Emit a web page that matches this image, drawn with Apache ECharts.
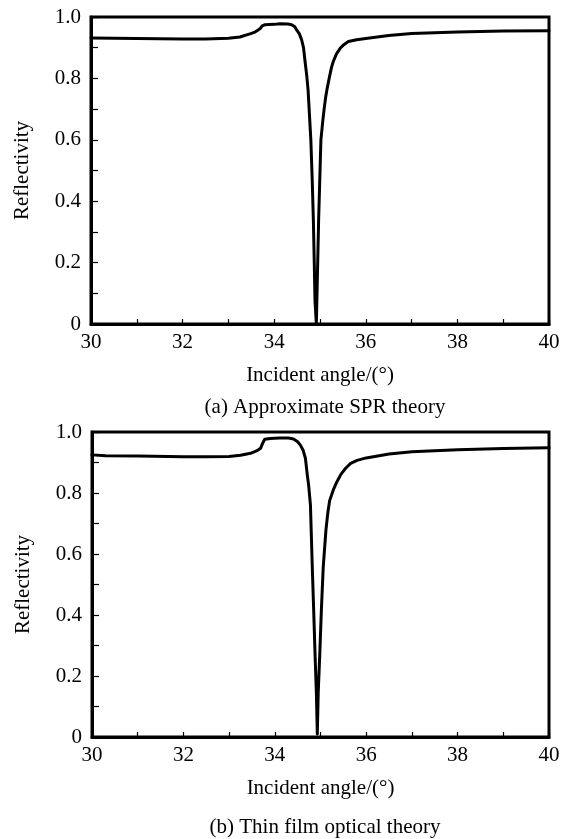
<!DOCTYPE html>
<html>
<head>
<meta charset="utf-8">
<script src="https://cdn.jsdelivr.net/npm/echarts@6/dist/echarts.min.js"></script>
<style>
html,body{margin:0;padding:0;background:#fff;}
#chart{width:568px;height:839px;}
</style>
</head>
<body>
<div id="chart"></div>
<script>
// ---- Data ----
var anglesA = [30, 30.5, 31, 31.5, 32, 32.5, 33, 33.25, 33.47, 33.58, 33.65, 33.7, 33.73, 33.8, 34.0, 34.13, 34.3, 34.38, 34.45, 34.49, 34.55, 34.6, 34.64, 34.67, 34.71, 34.74, 34.8, 34.83, 34.855, 34.875, 34.89, 34.92, 34.95, 34.97, 35.02, 35.06, 35.09, 35.12, 35.15, 35.2, 35.25, 35.29, 35.36, 35.44, 35.52, 35.62, 35.8, 36, 36.5, 37, 38, 39, 40];
var reflA   = [0.932, 0.931, 0.930, 0.929, 0.928, 0.928, 0.931, 0.935, 0.945, 0.951, 0.958, 0.963, 0.970, 0.975, 0.976, 0.978, 0.977, 0.975, 0.968, 0.958, 0.945, 0.925, 0.90, 0.86, 0.81, 0.762, 0.60, 0.47, 0.339, 0.20, 0.078, 0.0, 0.20, 0.339, 0.60, 0.66, 0.70, 0.735, 0.762, 0.80, 0.835, 0.855, 0.88, 0.898, 0.91, 0.92, 0.926, 0.930, 0.940, 0.946, 0.951, 0.954, 0.955];

var anglesB = [30, 30.3, 31, 32, 32.5, 33, 33.25, 33.47, 33.6, 33.69, 33.74, 33.78, 33.9, 34.1, 34.3, 34.41, 34.5, 34.56, 34.62, 34.67, 34.71, 34.74, 34.78, 34.82, 34.85, 34.88, 34.91, 34.93, 34.95, 34.985, 35.02, 35.06, 35.12, 35.16, 35.2, 35.28, 35.36, 35.45, 35.55, 35.66, 35.8, 36, 36.5, 37, 38, 39, 40];
var reflB   = [0.925, 0.922, 0.921, 0.919, 0.919, 0.920, 0.924, 0.930, 0.938, 0.947, 0.965, 0.976, 0.979, 0.980, 0.980, 0.977, 0.968, 0.957, 0.940, 0.914, 0.86, 0.826, 0.76, 0.558, 0.42, 0.275, 0.144, 0.01, 0.144, 0.275, 0.42, 0.558, 0.68, 0.735, 0.775, 0.81, 0.837, 0.862, 0.881, 0.897, 0.907, 0.915, 0.928, 0.935, 0.942, 0.946, 0.948];

var xLabelValues = [30, 32, 34, 36, 38, 40];
var yLabelValues = ['0', '0.2', '0.4', '0.6', '0.8', '1.0'];
var captions = ['(a) Approximate SPR theory', '(b) Thin film optical theory'];
var xName = 'Incident angle/(°)';
var yName = 'Reflectivity';

// ---- Chart ----
function pairs(xs, ys) { return xs.map(function (x, i) { return [x, ys[i]]; }); }
var FONT = 'Liberation Serif';

function xAxisOpt(idx) {
  return {
    type: 'value', gridIndex: idx, min: 30, max: 40, interval: 1,
    name: xName, nameLocation: 'middle', nameGap: 41,
    nameTextStyle: { fontFamily: FONT, fontSize: 21, color: '#000' },
    axisLine: { show: true, lineStyle: { color: '#000', width: 3 } },
    axisTick: { show: true, inside: true, length: 5, lineStyle: { color: '#000', width: 1.2 } },
    axisLabel: {
      margin: 8, fontFamily: FONT, fontSize: 21, color: '#000',
      formatter: function (v) { return xLabelValues.indexOf(Math.round(v)) >= 0 && Math.abs(v - Math.round(v)) < 1e-6 ? String(Math.round(v)) : ''; }
    },
    splitLine: { show: false }
  };
}
function yAxisOpt(idx) {
  return {
    type: 'value', gridIndex: idx, min: 0, max: 1, interval: 0.1,
    name: yName, nameLocation: 'middle', nameGap: 58, nameRotate: 90,
    nameTextStyle: { fontFamily: FONT, fontSize: 21, color: '#000' },
    axisLine: { show: true, lineStyle: { color: '#000', width: 3 } },
    axisTick: { show: true, inside: true, length: 7, lineStyle: { color: '#000', width: 1.2 } },
    axisLabel: {
      margin: 10, fontFamily: FONT, fontSize: 21, color: '#000',
      formatter: function (v) {
        var k = Math.round(v * 10);
        if (k % 2 !== 0) return '';
        return yLabelValues[k / 2];
      }
    },
    splitLine: { show: false }
  };
}

var chart = echarts.init(document.getElementById('chart'), null, { renderer: 'canvas' });
chart.setOption({
  backgroundColor: '#fff',
  animation: false,
  title: [
    { text: captions[0], left: 320, top: 392, textAlign: 'center',
      textStyle: { fontFamily: FONT, fontSize: 21, fontWeight: 'normal', color: '#000' } },
    { text: captions[1], left: 320, top: 812, textAlign: 'center',
      textStyle: { fontFamily: FONT, fontSize: 21, fontWeight: 'normal', color: '#000' } }
  ],
  grid: [
    { left: 91, right: 19, top: 17, height: 307, show: true, borderColor: '#000', borderWidth: 3, backgroundColor: 'transparent', containLabel: false, outerBoundsMode: 'none' },
    { left: 92, right: 19, top: 432, height: 305, show: true, borderColor: '#000', borderWidth: 3, backgroundColor: 'transparent', containLabel: false, outerBoundsMode: 'none' }
  ],
  xAxis: [xAxisOpt(0), xAxisOpt(1)],
  yAxis: [yAxisOpt(0), yAxisOpt(1)],
  series: [
    { type: 'line', xAxisIndex: 0, yAxisIndex: 0, data: pairs(anglesA, reflA), symbol: 'none',
      lineStyle: { color: '#000', width: 3, join: 'round', cap: 'round' }, smooth: false },
    { type: 'line', xAxisIndex: 1, yAxisIndex: 1, data: pairs(anglesB, reflB), symbol: 'none',
      lineStyle: { color: '#000', width: 3, join: 'round', cap: 'round' }, smooth: false }
  ]
});
</script>
</body>
</html>
